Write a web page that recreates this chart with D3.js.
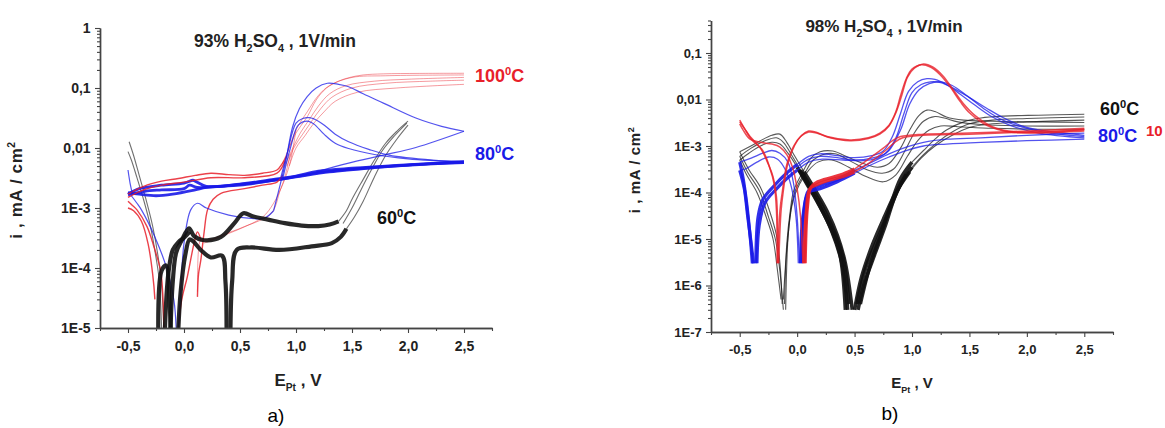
<!DOCTYPE html>
<html>
<head>
<meta charset="utf-8">
<script src="https://cdn.jsdelivr.net/npm/d3@7"></script>
<style>
  body { margin: 0; background: #fff; }
  text { font-family: "Liberation Sans", Arial, sans-serif; }
</style>
</head>
<body>
<svg id="fig" width="1165" height="428"></svg>
<script>
// ---------- data: panel a (93% H2SO4), [E (V), i (mA/cm2)] ----------
var a60Thin = [
  [[-0.5,0.0087],[-0.47,0.0063],[-0.42,0.0032],[-0.36,0.00136],[-0.3,0.0005],[-0.25,0.00015],[-0.22,0.00006],[-0.2,0.00001]],
  [[-0.49,0.0127],[-0.45,0.0075],[-0.4,0.0035],[-0.34,0.0014],[-0.28,0.0005],[-0.23,0.00015],[-0.2,0.00005],[-0.18,0.00001]],
  [[1.38,0.0006],[1.45,0.0009],[1.5,0.0014],[1.6,0.003],[1.7,0.0063],[1.8,0.012],[1.9,0.019],[2.0,0.028]],
  [[1.42,0.00055],[1.5,0.001],[1.58,0.002],[1.67,0.0042],[1.77,0.009],[1.88,0.016],[1.99,0.026]],
  [[1.45,0.00045],[1.52,0.0007],[1.6,0.0013],[1.7,0.0033],[1.8,0.0075],[1.9,0.014],[2.0,0.024]]
];
var a60Noisy = [
  [[-0.12,0.00001],[-0.1,0.00006],[-0.07,0.00018],[-0.02,0.00029],[0.045,0.00046],[0.09,0.00034],[0.18,0.00029],[0.33,0.00033],[0.45,0.00056],[0.53,0.00082],[0.62,0.00072],[0.75,0.00064],[0.9,0.00056],[1.05,0.00051],[1.2,0.0005],[1.3,0.00053],[1.38,0.0006]],
  [[1.45,0.00045],[1.4,0.00033],[1.32,0.00026],[1.14,0.00023],[0.85,0.0002],[0.6,0.00022],[0.47,0.0002],[0.43,0.00006],[0.415,0.00001]],
  [[0.38,0.00001],[0.37,0.00006],[0.34,0.00016],[0.24,0.00015],[0.15,0.0002],[0.08,0.00028],[0.05,0.0003],[0.01,0.00016],[-0.03,0.00004],[-0.05,0.00001]],
  [[-0.23,0.00001],[-0.2,0.00009],[-0.16,0.00011],[-0.13,0.00003],[-0.12,0.00001]],
  [[-0.17,0.00001],[-0.14,0.00008],[-0.1,0.0002],[-0.05,0.00027],[0.0,0.00032],[0.05,0.0004]]
];
var a80Noisy = [
  [[-0.5,0.0017],[-0.4,0.0021],[-0.2,0.0024],[0.0,0.0026],[0.08,0.0029],[0.1,0.0028],[0.2,0.0023],[0.5,0.0025],[0.8,0.003],[1.0,0.0034],[1.2,0.0041],[1.5,0.0046],[1.8,0.005],[2.1,0.0054],[2.5,0.0059]],
  [[-0.5,0.0018],[-0.4,0.0017],[-0.25,0.0016],[-0.1,0.0017],[0.1,0.002],[0.2,0.0022],[0.5,0.0024],[0.8,0.0029],[1.0,0.0033],[1.3,0.004],[1.7,0.0047],[2.1,0.0053],[2.5,0.0057]],
  [[-0.5,0.00165],[-0.35,0.0019],[-0.2,0.002],[0.0,0.0021],[0.05,0.0024],[0.12,0.0022],[0.3,0.0023],[0.6,0.0026],[0.9,0.0031],[1.2,0.0039],[1.6,0.0046],[2.0,0.0052],[2.5,0.0058]]
];
var a80Thin = [
  [[0.8,0.0009],[0.86,0.0025],[0.91,0.0063],[0.97,0.0226],[1.03,0.045],[1.1,0.072],[1.18,0.1],[1.28,0.12],[1.38,0.115],[1.47,0.105],[1.6,0.08],[1.78,0.056],[2.07,0.0316],[2.3,0.023],[2.5,0.019]],
  [[2.5,0.019],[2.07,0.0102],[1.78,0.0076],[1.47,0.0056],[1.18,0.004]],
  [[0.86,0.003],[0.92,0.008],[1.0,0.026],[1.06,0.031],[1.12,0.032],[1.2,0.028],[1.27,0.0226],[1.35,0.017],[1.47,0.0127],[1.65,0.0095],[1.83,0.0076],[2.22,0.0063],[2.5,0.006]],
  [[0.88,0.003],[0.95,0.01],[1.02,0.024],[1.1,0.028],[1.16,0.025],[1.25,0.017],[1.35,0.012],[1.47,0.0098],[1.7,0.0078],[2.0,0.0066],[2.5,0.0058]],
  [[-0.47,0.0016],[-0.42,0.0012],[-0.38,0.00093],[-0.26,0.00033],[-0.15,0.000093],[-0.09,0.000029],[-0.07,0.00001]],
  [[-0.05,0.00001],[-0.03,0.000038],[0.0,0.00026],[0.06,0.00093],[0.12,0.0012],[0.2,0.001],[0.4,0.00076],[0.6,0.00067],[0.72,0.00068],[0.8,0.0009]],
  [[-0.5,0.0043],[-0.48,0.0025],[-0.46,0.0017]]
];
var a100Dark = [
  [[-0.5,0.0017],[-0.36,0.0023],[-0.2,0.0028],[-0.05,0.0031],[0.1,0.0035],[0.24,0.0038],[0.4,0.0036],[0.54,0.0035],[0.7,0.0038],[0.83,0.0043],[0.88,0.0056],[0.92,0.0075]],
  [[-0.5,0.0015],[-0.36,0.002],[-0.2,0.0024],[0.0,0.0027],[0.24,0.0032],[0.54,0.0032],[0.83,0.0038],[0.9,0.006]],
  [[0.12,0.000033],[0.13,0.00008],[0.15,0.000135],[0.18,0.0004],[0.21,0.00093],[0.26,0.0014],[0.33,0.00176],[0.54,0.0021],[0.7,0.0024],[0.83,0.0027],[0.88,0.0035]],
  [[-0.5,0.0013],[-0.46,0.0011],[-0.42,0.00093],[-0.33,0.00049],[-0.27,0.00023],[-0.21,0.000093],[-0.19,0.000038],[-0.18,0.00001]],
  [[-0.5,0.001],[-0.45,0.0009],[-0.38,0.0006],[-0.32,0.00025],[-0.28,0.00008],[-0.26,0.00003]],
  [[-0.05,0.00001],[-0.02,0.00003],[0.03,0.000072],[0.09,0.00026],[0.12,0.0004],[0.15,0.0003]]
];
var a100Light = [
  [[0.88,0.0056],[0.92,0.0083],[1.0,0.0178],[1.1,0.033],[1.18,0.063],[1.27,0.099],[1.38,0.13],[1.48,0.15],[1.6,0.165],[1.78,0.172],[2.1,0.175],[2.5,0.176]],
  [[0.9,0.005],[0.96,0.009],[1.04,0.018],[1.12,0.03],[1.2,0.05],[1.3,0.08],[1.45,0.11],[1.7,0.13],[2.0,0.14],[2.5,0.15]],
  [[0.92,0.005],[0.98,0.01],[1.06,0.017],[1.14,0.028],[1.22,0.045],[1.32,0.07],[1.5,0.1],[1.8,0.12],[2.2,0.13],[2.5,0.135]],
  [[0.94,0.005],[1.0,0.01],[1.08,0.016],[1.16,0.026],[1.25,0.04],[1.35,0.06],[1.55,0.085],[1.9,0.1],[2.5,0.115]],
  [[0.9,0.006],[1.0,0.02],[1.1,0.04],[1.2,0.075],[1.3,0.11],[1.5,0.15],[1.8,0.16],[2.5,0.165]],
  [[1.0,0.02],[0.95,0.006],[0.9,0.003],[0.86,0.002],[0.78,0.00082],[0.54,0.00049],[0.35,0.00036],[0.24,0.0003],[0.15,0.00029],[0.13,0.0002],[0.12,0.00004]],
  [[0.95,0.008],[0.88,0.0025],[0.8,0.0012],[0.7,0.0007],[0.5,0.00045],[0.3,0.00032],[0.18,0.00026]]
];

// ---------- data: panel b (98% H2SO4) ----------
var b60Thin = [
  [[-0.5,0.00075],[-0.42,0.00031],[-0.32,0.00013],[-0.24,0.00004],[-0.18,0.000012],[-0.15,0.000003],[-0.13,0.0000004]],
  [[-0.5,0.0006],[-0.43,0.00027],[-0.33,0.00011],[-0.25,0.00003],[-0.19,0.00001],[-0.15,0.000002],[-0.12,0.0000003]],
  [[-0.5,0.0005],[-0.44,0.00024],[-0.35,0.0001],[-0.27,0.00003],[-0.21,0.00001],[-0.17,0.000002],[-0.14,0.0000005]],
  [[-0.11,0.0000004],[-0.09,0.000008],[-0.06,0.00004],[-0.03,0.00011],[0.05,0.00028],[0.12,0.00055],[0.2,0.00075],[0.31,0.00078],[0.46,0.00055],[0.6,0.0004],[0.7,0.00035],[0.8,0.00042],[0.9,0.0009],[0.98,0.0022],[1.06,0.0045],[1.13,0.0059],[1.2,0.0055],[1.3,0.0042],[1.45,0.0036],[1.7,0.0034],[2.1,0.0033],[2.5,0.0032]],
  [[-0.1,0.0000003],[-0.08,0.00001],[-0.05,0.00005],[-0.01,0.00012],[0.07,0.00027],[0.14,0.0005],[0.22,0.00065],[0.33,0.00068],[0.48,0.00045],[0.62,0.0003],[0.74,0.00026],[0.84,0.00032],[0.94,0.0008],[1.02,0.0019],[1.1,0.0034],[1.2,0.0043],[1.28,0.004],[1.4,0.0033],[1.6,0.0029],[2.0,0.0027],[2.5,0.0027]],
  [[-0.12,0.0000005],[-0.09,0.000006],[-0.04,0.00006],[0.02,0.00015],[0.1,0.0003],[0.18,0.00045],[0.3,0.0005],[0.45,0.00035],[0.6,0.00022],[0.75,0.00017],[0.86,0.00024],[0.96,0.0006],[1.05,0.0013],[1.15,0.0022],[1.25,0.0027],[1.4,0.0026],[1.7,0.0024],[2.1,0.0023],[2.5,0.0023]],
  [[2.5,0.0048],[2.1,0.0046],[1.8,0.0044],[1.6,0.004],[1.45,0.0033],[1.3,0.0022],[1.2,0.0014],[1.1,0.0008],[1.0,0.00045]],
  [[2.5,0.0042],[2.0,0.0039],[1.7,0.0036],[1.5,0.003],[1.35,0.002],[1.22,0.0012],[1.1,0.00065],[1.0,0.00035]],
  [[2.5,0.0036],[2.0,0.0033],[1.7,0.003],[1.5,0.0025],[1.35,0.0017],[1.2,0.001],[1.08,0.00055],[0.98,0.00028]],
  [[0.06,0.00028],[-0.02,0.0006],[-0.09,0.0012],[-0.15,0.0018],[-0.22,0.0017],[-0.32,0.0013],[-0.42,0.00095],[-0.5,0.00075]],
  [[0.03,0.0003],[-0.05,0.00065],[-0.12,0.0012],[-0.18,0.0015],[-0.28,0.0013],[-0.4,0.0009],[-0.5,0.0006]],
  [[0.0,0.00035],[-0.08,0.0007],[-0.15,0.0011],[-0.22,0.0012],[-0.32,0.001],[-0.42,0.0007],[-0.5,0.0005]]
];
var b60Noisy = [
  [[1.0,0.00045],[0.9,0.0002],[0.82,0.00006],[0.74,0.000015],[0.64,0.000003],[0.55,0.0000004]],
  [[0.48,0.0000003],[0.42,0.000003],[0.35,0.000012],[0.26,0.00004],[0.16,0.00011],[0.06,0.00028]],
  [[1.0,0.00035],[0.9,0.00015],[0.8,0.00004],[0.7,0.00001],[0.6,0.0000025],[0.52,0.0000004]],
  [[0.45,0.0000004],[0.4,0.000004],[0.32,0.000015],[0.22,0.00005],[0.12,0.00013],[0.03,0.0003]],
  [[0.98,0.00028],[0.86,0.0001],[0.76,0.00003],[0.66,0.000008],[0.56,0.0000015],[0.5,0.0000003]],
  [[0.42,0.0000003],[0.37,0.000005],[0.28,0.00002],[0.18,0.00006],[0.08,0.00016],[0.0,0.00035]],
  [[0.95,0.00025],[0.85,0.00008],[0.77,0.00002],[0.68,0.000005],[0.58,0.000001],[0.53,0.0000003]],
  [[0.44,0.0000003],[0.39,0.000003],[0.3,0.000015],[0.2,0.00005],[0.1,0.00014],[0.02,0.0003]]
];
var b80Thin = [
  [[0.0,0.0004],[0.1,0.0006],[0.2,0.00068],[0.35,0.00062],[0.5,0.00056],[0.65,0.00062],[0.75,0.00078],[0.83,0.0016],[0.9,0.005],[0.97,0.015],[1.05,0.024],[1.13,0.028],[1.2,0.027],[1.3,0.021],[1.42,0.013],[1.55,0.0075],[1.7,0.0042],[1.85,0.0028],[2.1,0.0019],[2.5,0.0015]],
  [[0.0,0.00035],[0.1,0.00052],[0.2,0.0006],[0.35,0.00056],[0.5,0.0005],[0.65,0.00055],[0.77,0.0007],[0.86,0.0015],[0.93,0.005],[1.0,0.014],[1.08,0.021],[1.16,0.024],[1.25,0.023],[1.35,0.018],[1.5,0.011],[1.65,0.0065],[1.8,0.004],[2.0,0.0025],[2.5,0.0017]],
  [[0.0,0.0003],[0.1,0.00045],[0.22,0.00052],[0.4,0.0005],[0.55,0.00048],[0.7,0.00055],[0.8,0.0008],[0.9,0.0022],[0.98,0.008],[1.06,0.016],[1.15,0.022],[1.25,0.024],[1.35,0.02],[1.48,0.012],[1.62,0.0065],[1.8,0.0035],[2.1,0.0021],[2.5,0.0016]],
  [[2.5,0.0019],[2.0,0.0017],[1.6,0.0015],[1.3,0.0014],[1.1,0.0012],[0.95,0.00095],[0.8,0.00068],[0.65,0.00045],[0.5,0.0003]],
  [[2.5,0.0014],[2.0,0.0013],[1.6,0.0012],[1.3,0.0011],[1.1,0.001],[0.95,0.0008],[0.8,0.00058],[0.65,0.0004],[0.5,0.00026]],
  [[0.02,0.000003],[0.0,0.00003],[-0.03,0.00015],[-0.08,0.00045],[-0.15,0.0007],[-0.22,0.0008],[-0.3,0.0007],[-0.4,0.00055],[-0.5,0.00045]],
  [[0.01,0.000003],[-0.01,0.00003],[-0.05,0.00013],[-0.1,0.0003],[-0.17,0.00052],[-0.25,0.00058],[-0.35,0.00045],[-0.45,0.00032],[-0.5,0.0003]]
];
var b80Noisy = [
  [[-0.5,0.00045],[-0.47,0.0002],[-0.44,0.00006],[-0.41,0.000012],[-0.39,0.000003]],
  [[-0.5,0.0003],[-0.46,0.00012],[-0.43,0.00003],[-0.4,0.000008],[-0.38,0.000003]],
  [[-0.36,0.000003],[-0.34,0.00003],[-0.3,0.00007],[-0.2,0.00014],[-0.1,0.00025],[0.0,0.0004]],
  [[-0.35,0.000003],[-0.33,0.00002],[-0.28,0.00006],[-0.18,0.00012],[-0.08,0.00021],[0.0,0.0003]],
  [[0.5,0.0003],[0.35,0.00019],[0.2,0.00014],[0.1,0.00011],[0.06,0.00004],[0.04,0.000003]],
  [[0.5,0.00026],[0.35,0.00017],[0.2,0.00012],[0.1,0.0001],[0.05,0.00003],[0.03,0.000003]]
];
var b100Thin = [
  [[-0.16,0.000003],[-0.14,0.00004],[-0.12,0.00011],[-0.08,0.00043],[-0.02,0.00105],[0.04,0.0017],[0.1,0.0021],[0.16,0.002],[0.26,0.0016],[0.46,0.00135],[0.62,0.0015],[0.72,0.0019],[0.8,0.0028],[0.86,0.0055],[0.9,0.012],[0.95,0.028],[1.0,0.045],[1.08,0.056],[1.16,0.05],[1.24,0.035],[1.33,0.019],[1.42,0.009],[1.5,0.0052],[1.65,0.0028],[1.85,0.002],[2.1,0.0019],[2.5,0.0021]],
  [[-0.17,0.000003],[-0.15,0.00004],[-0.13,0.0001],[-0.09,0.0004],[-0.03,0.001],[0.03,0.0016],[0.1,0.002],[0.17,0.0019],[0.27,0.00155],[0.46,0.0013],[0.62,0.00145],[0.72,0.0018],[0.8,0.0027],[0.86,0.0052],[0.91,0.012],[0.96,0.03],[1.02,0.047],[1.1,0.058],[1.18,0.05],[1.27,0.032],[1.36,0.016],[1.45,0.008],[1.55,0.0045],[1.7,0.0026],[1.9,0.002],[2.2,0.002],[2.5,0.0023]],
  [[2.5,0.0024],[2.0,0.0021],[1.5,0.0019],[1.1,0.0018],[0.9,0.0016],[0.83,0.0013],[0.75,0.0009],[0.6,0.00048],[0.5,0.00032]],
  [[2.5,0.0022],[2.0,0.002],[1.5,0.0018],[1.1,0.0017],[0.92,0.0015],[0.85,0.0012],[0.77,0.0008],[0.62,0.00042],[0.5,0.00028]],
  [[0.05,0.000003],[0.03,0.00003],[0.0,0.00012],[-0.04,0.00035],[-0.09,0.00065],[-0.15,0.00095],[-0.22,0.0011],[-0.32,0.0012],[-0.41,0.0014],[-0.47,0.0022],[-0.5,0.003]],
  [[-0.5,0.0033],[-0.46,0.0024],[-0.41,0.0016],[-0.32,0.0009],[-0.25,0.0004],[-0.21,0.00022],[-0.18,0.00008],[-0.17,0.00002],[-0.165,0.000003]],
  [[-0.5,0.0036],[-0.45,0.0022],[-0.4,0.0014],[-0.3,0.0008],[-0.24,0.00035],[-0.2,0.00015],[-0.18,0.00004],[-0.175,0.000003]]
];
var b100Noisy = [
  [[0.5,0.00032],[0.4,0.00025],[0.3,0.00021],[0.18,0.00017],[0.12,0.00013],[0.09,0.00005],[0.07,0.000003]],
  [[0.5,0.00028],[0.4,0.00022],[0.3,0.00019],[0.18,0.00015],[0.11,0.00012],[0.08,0.00004],[0.06,0.000003]]
];

// ticks
var xTicks = [-0.5, 0, 0.5, 1, 1.5, 2, 2.5];
var xMinor = [-0.75, -0.25, 0.25, 0.75, 1.25, 1.75, 2.25, 2.75];
var aYTicks = [1, 0.1, 0.01, 1e-3, 1e-4, 1e-5];
var bYTicks = [0.1, 0.01, 1e-3, 1e-4, 1e-5, 1e-6, 1e-7];

var RED = "#e8202a", BLUE = "#1a1ae8", BLACK = "#111";

var svg = d3.select("#fig");

function fmtY(v) {
  var e = Math.round(Math.log10(v));
  if (e === 0) return "1";
  if (e >= -2) return String(v).replace(".", ",");
  return "1E" + e;
}
function fmtX(v) { return d3.format(".1f")(v).replace(".", ",").replace("\u2212", "-"); }

function minors(lo, hi) {
  var out = [];
  for (var e = Math.floor(Math.log10(lo)); e <= Math.ceil(Math.log10(hi)); e++)
    for (var m = 2; m <= 9; m++) {
      var v = m * Math.pow(10, e);
      if (v >= lo && v <= hi) out.push(v);
    }
  return out;
}

function panel(id, x, y, yTicks, groups, fs) {
  var g = svg.append("g");
  var xr = x.range(), yr = y.range();
  g.append("clipPath").attr("id", id).append("rect")
    .attr("x", xr[0]).attr("y", yr[1]).attr("width", xr[1] - xr[0]).attr("height", yr[0] - yr[1]);
  var line = d3.line().x(function(d){ return x(d[0]); }).y(function(d){ return y(d[1]); })
    .curve(d3.curveCatmullRom.alpha(0.5));
  var plot = g.append("g").attr("clip-path", "url(#" + id + ")");
  groups.forEach(function(s) {
    plot.selectAll(null).data(s.data).enter().append("path")
      .attr("d", line).attr("fill", "none")
      .attr("stroke", s.color).attr("stroke-width", s.w).attr("stroke-opacity", s.op)
      .attr("stroke-linejoin", "round");
  });
  // axes
  var ax = g.append("g").attr("transform", "translate(0," + yr[0] + ")");
  ax.call(d3.axisBottom(x).tickValues(xTicks).tickSize(5).tickSizeOuter(0).tickFormat(fmtX));
  ax.append("g").call(d3.axisBottom(x).tickValues(xMinor).tickSize(3).tickSizeOuter(0).tickFormat(""));
  var ay = g.append("g").attr("transform", "translate(" + xr[0] + ",0)");
  ay.call(d3.axisLeft(y).tickValues(yTicks).tickSize(5).tickSizeOuter(0).tickFormat(fmtY));
  ay.append("g").call(d3.axisLeft(y).tickValues(minors(y.domain()[0], y.domain()[1])).tickSize(3).tickSizeOuter(0).tickFormat(""));
  g.selectAll(".domain").attr("stroke", "#444").attr("stroke-width", 1.4);
  g.selectAll(".tick line").attr("stroke", "#444").attr("stroke-width", 1.1);
  g.selectAll(".tick text").attr("font-size", fs).attr("font-weight", "bold")
    .attr("font-family", "Liberation Sans, Arial, sans-serif").attr("fill", "#222");
  ax.selectAll(".tick text").attr("dy", "1.1em");
  ay.selectAll(".tick text").attr("dx", "-0.1em");
  return g;
}

function temp(g, x, y, num, color, fs) {
  var t = g.append("text").attr("x", x).attr("y", y).attr("fill", color)
    .attr("font-size", fs).attr("font-weight", "bold");
  t.append("tspan").text(num);
  t.append("tspan").attr("dy", -fs * 0.4).attr("font-size", fs * 0.62).text("0");
  t.append("tspan").attr("dy", fs * 0.4).text("C");
}

function title(g, cx, y, pct, fs) {
  var t = g.append("text").attr("x", cx).attr("y", y).attr("text-anchor", "middle")
    .attr("font-size", fs).attr("font-weight", "bold").attr("fill", "#222");
  t.append("tspan").text(pct + "% H");
  t.append("tspan").attr("dy", fs * 0.3).attr("font-size", fs * 0.62).text("2");
  t.append("tspan").attr("dy", -fs * 0.3).text("SO");
  t.append("tspan").attr("dy", fs * 0.3).attr("font-size", fs * 0.62).text("4");
  t.append("tspan").attr("dy", -fs * 0.3).text(" , 1V/min");
}

function axisLabels(g, xx, xy, yx, yy, fs) {
  var t = g.append("text").attr("x", xx).attr("y", xy).attr("text-anchor", "middle")
    .attr("font-size", fs).attr("font-weight", "bold").attr("fill", "#222");
  t.append("tspan").text("E");
  t.append("tspan").attr("dy", fs * 0.3).attr("font-size", fs * 0.6).text("Pt");
  t.append("tspan").attr("dy", -fs * 0.3).text(" , V");
  var u = g.append("text").attr("transform", "translate(" + yx + "," + yy + ") rotate(-90)")
    .attr("text-anchor", "middle").attr("font-size", fs).attr("font-weight", "bold").attr("fill", "#222")
    .attr("letter-spacing", 0.6);
  u.append("tspan").text("i ,  mA / cm");
  u.append("tspan").attr("dy", -fs * 0.4).attr("font-size", fs * 0.6).text("2");
}

// ---------- panel a ----------
var xa = d3.scaleLinear().domain([-0.75, 2.75]).range([100, 492]);
var ya = d3.scaleLog().domain([1e-5, 1]).range([328, 28]);
var ga = panel("clipA", xa, ya, aYTicks, [
  {data: a100Light, color: RED, w: 1, op: 0.45},
  {data: a60Thin, color: BLACK, w: 1.1, op: 0.6},
  {data: a80Noisy, color: BLUE, w: 2.8, op: 0.9},
  {data: a100Dark, color: RED, w: 1.4, op: 0.85},
  {data: a80Thin, color: BLUE, w: 1.2, op: 0.75},
  {data: a60Noisy, color: BLACK, w: 4.2, op: 0.9}
], 14);
title(ga, 275, 47, "93", 17.5);
axisLabels(ga, 298, 386, 22, 190, 17);
temp(ga, 475, 82, "100", RED, 18);
temp(ga, 475, 160, "80", BLUE, 18);
temp(ga, 377, 224, "60", BLACK, 18);
ga.append("text").attr("x", 276).attr("y", 422).attr("text-anchor", "middle")
  .attr("font-family", "Liberation Serif, Times New Roman, serif").attr("font-size", 19).text("a)");

// ---------- panel b ----------
var xb = d3.scaleLinear().domain([-0.75, 2.75]).range([711, 1113]);
var yb = d3.scaleLog().domain([1e-7, 0.5]).range([332, 20.5]);
var gb = panel("clipB", xb, yb, bYTicks, [
  {data: b60Thin, color: BLACK, w: 1.1, op: 0.7},
  {data: b60Noisy, color: BLACK, w: 3.6, op: 0.9},
  {data: b80Thin, color: BLUE, w: 1.3, op: 0.75},
  {data: b80Noisy, color: BLUE, w: 3.2, op: 0.9},
  {data: b100Thin, color: RED, w: 1.5, op: 0.8},
  {data: b100Noisy, color: RED, w: 3.2, op: 0.9}
], 13);
title(gb, 884, 32, "98", 17);
axisLabels(gb, 912, 388, 640, 170, 15);
temp(gb, 1100, 115, "60", BLACK, 18);
temp(gb, 1098, 142, "80", BLUE, 18);
gb.append("text").attr("x", 1146).attr("y", 136).attr("fill", RED)
  .attr("font-size", 15).attr("font-weight", "bold").text("10");
gb.append("text").attr("x", 890).attr("y", 420).attr("text-anchor", "middle")
  .attr("font-family", "Liberation Serif, Times New Roman, serif").attr("font-size", 19).text("b)");
</script>
</body>
</html>
